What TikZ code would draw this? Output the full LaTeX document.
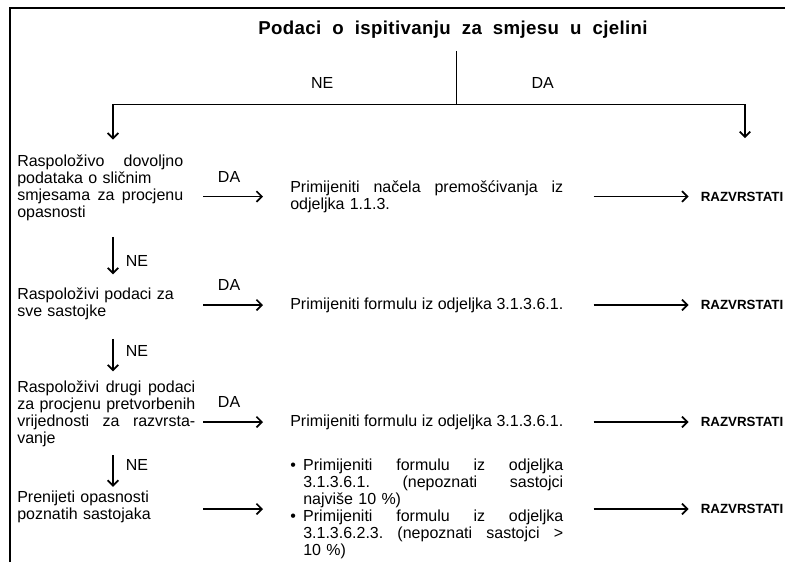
\documentclass[tikz,border=0pt]{standalone}
\usepackage{fontspec}
\setmainfont{Liberation Sans}
\usetikzlibrary{arrows.meta, positioning}

\begin{document}
\begin{tikzpicture}[x=0.75pt, y=-0.75pt,
      node distance=0pt and 102.75pt,
      every node/.style={inner sep=0pt, font=\fontsize{12}{12.75}\selectfont},
      cond/.style={anchor=west, text width=#1, align=left},
      action/.style={anchor=west, text width=204.75pt, align=left},
      result/.style={font=\fontsize{10}{12}\selectfont\bfseries},
      arrow/.style={-{Straight Barb[length=4pt, width=8pt]}, line width=1.3pt},
      branch/.style={line width=0.6pt},
      frame/.style={line width=1pt} ]
    \useasboundingbox (0,0) rectangle (785,562);
    \draw[frame] (10,562) -- (10,8) -- (785,8);

    \node[font=\fontsize{14}{16}\selectfont\bfseries\addfontfeature{LetterSpace=2}]
      (title) at (453,30)
      {\makebox[292pt][s]{Podaci o ispitivanju za smjesu u cjelini}};
    \coordinate (split) at (456,104);
    \coordinate (lcol) at (113,104);
    \coordinate (rcol) at (745,104);
    \coordinate (dcol) at (203,104);

    % left column: questions
    \node[cond=124.5pt] (q1) at (17,187.5)
      {Raspoloživo\hfill dovoljno\\ podataka o sličnim\\
       smjesama\hfill za\hfill procjenu\\ opasnosti};
    \node[cond=124.5pt] (q2) at (17,304)
      {Raspoloživi podaci za\\ sve sastojke};
    \node[cond=133.5pt] (q3) at (17,414)
      {Raspoloživi\hfill drugi\hfill podaci\\ za\hfill procjenu\hfill pretvorbenih\\
       vrijednosti\hfill za\hfill razvrsta-\\ vanje};
    \node[cond=124.5pt] (q4) at (17,507)
      {Prenijeti opasnosti\\ poznatih sastojaka};

    % middle column: actions
    \node[action] (a1) at (290,196.5)
      {Primijeniti\hfill načela\hfill premošćivanja\hfill iz\\ odjeljka 1.1.3.};
    \node[anchor=west] (a2) at (290,305) {Primijeniti formulu iz odjeljka 3.1.3.6.1.};
    \node[anchor=west] (a3) at (290,422) {Primijeniti formulu iz odjeljka 3.1.3.6.1.};
    \node[action] (a4) at (290,509)
      {•\hspace{5.5pt}Primijeniti\hfill formulu\hfill iz\hfill odjeljka\\
       \hspace*{9.75pt}3.1.3.6.1.\hfill (nepoznati\hfill sastojci\\
       \hspace*{9.75pt}najviše 10~\%)\\
       •\hspace{5.5pt}Primijeniti\hfill formulu\hfill iz\hfill odjeljka\\
       \hspace*{9.75pt}3.1.3.6.2.3.\hfill (nepoznati\hfill sastojci\hfill >\\
       \hspace*{9.75pt}10~\%)};

    % right column
    \node[result, right=of a1] (r1) {RAZVRSTATI};
    \node[result, right=102.75pt of a1.east |- a2] (r2) {RAZVRSTATI};
    \node[result, right=102.75pt of a1.east |- a3] (r3) {RAZVRSTATI};
    \node[result, right=of a4] (r4) {RAZVRSTATI};

    % top split
    \draw[branch, shorten <=9pt] (title.south -| split) -- (split);
    \draw[branch] (split) -- node[above=11pt, pos=0.39] (ne0) {NE} (lcol);
    \draw[branch] (split) -- node[above=11pt, pos=0.30] (da0) {DA} (rcol);
    \draw[arrow, shorten >=11pt] (lcol) -- (q1.north -| lcol);
    \draw[arrow, shorten >=40pt] (rcol) -- (r1.north -| rcol);

    % NE
    \draw[arrow, shorten <=12pt, shorten >=10pt] (q1.south -| lcol) --
      node[right=9pt, pos=0.6] (ne1) {NE} (q2.north -| lcol);
    \draw[arrow, shorten <=14pt, shorten >=7pt] (q2.south -| lcol) --
      node[right=9pt, pos=0.5] (ne2) {NE} (q3.north -| lcol);
    \draw[arrow, shorten <=6pt, shorten >=3pt] (q3.south -| lcol) --
      node[right=9pt, pos=0.4] (ne3) {NE} (q4.north -| lcol);

    % DA
    \draw[arrow, shorten >=20.25pt] (dcol |- a1) --
      node[above=10pt, pos=0.3] (da1) {DA} (a1.west);
    \draw[arrow, shorten >=20.25pt] (dcol |- a2) --
      node[above=10pt, pos=0.3] (da2) {DA} (a2.west);
    \draw[arrow, shorten >=20.25pt] (dcol |- a3) --
      node[above=10pt, pos=0.3] (da3) {DA} (a3.west);
    \draw[arrow, shorten >=20.25pt] (dcol |- a4) -- (a4.west);

    \foreach \i in {1,...,4}
      \draw[arrow, shorten <=22.5pt, shorten >=9pt] (a1.east |- a\i) -- (r\i);
  \end{tikzpicture}
\end{document}
